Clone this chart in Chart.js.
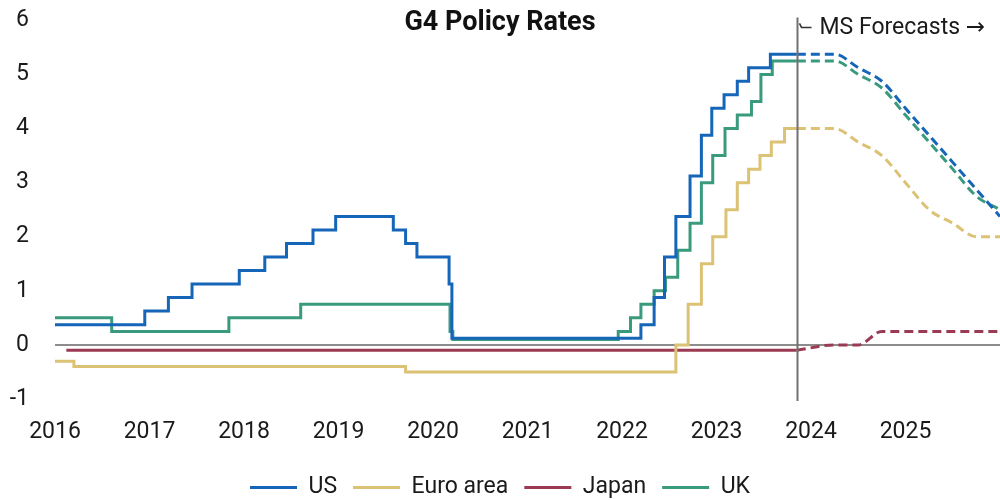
<!DOCTYPE html>
<html>
<head>
<meta charset="utf-8">
<script src="https://cdn.jsdelivr.net/npm/chart.js@4.4.1/dist/chart.umd.min.js"></script>
<style>
  html, body { margin: 0; padding: 0; background: #fff; }
  #wrap { width: 1000px; height: 500px; }
</style>
</head>
<body>
<div id="wrap"><canvas id="ratesChart" width="1000" height="500"></canvas></div>
<script>
// policy rate step dates (decimal years) and levels, %
const usDates = [2016.0, 2016.95, 2017.2, 2017.45, 2017.95, 2018.22, 2018.45, 2018.73, 2018.97, 2019.58, 2019.71, 2019.83, 2020.17, 2020.2, 2022.2, 2022.34, 2022.45, 2022.57, 2022.72, 2022.84, 2022.95, 2023.08, 2023.22, 2023.34, 2023.57, 2023.85];
const usRates = [0.375, 0.625, 0.875, 1.125, 1.375, 1.625, 1.875, 2.125, 2.375, 2.125, 1.875, 1.625, 1.125, 0.125, 0.375, 0.875, 1.625, 2.375, 3.125, 3.875, 4.375, 4.625, 4.875, 5.125, 5.375, 5.375];

const euroDates = [2016.0, 2016.2, 2019.71, 2022.57, 2022.7, 2022.84, 2022.96, 2023.1, 2023.22, 2023.34, 2023.46, 2023.58, 2023.72, 2023.85];
const euroRates = [-0.3, -0.4, -0.5, 0.0, 0.75, 1.5, 2.0, 2.5, 3.0, 3.25, 3.5, 3.75, 4.0, 4.0];

const japanDates = [2016.12, 2023.85];
const japanRates = [-0.1, -0.1];

const ukDates = [2016.0, 2016.6, 2017.84, 2018.6, 2020.18, 2020.21, 2021.96, 2022.09, 2022.2, 2022.34, 2022.46, 2022.59, 2022.72, 2022.84, 2022.96, 2023.09, 2023.22, 2023.37, 2023.47, 2023.59, 2023.85];
const ukRates = [0.5, 0.25, 0.5, 0.75, 0.25, 0.1, 0.25, 0.5, 0.75, 1.0, 1.25, 1.75, 2.25, 3.0, 3.5, 4.0, 4.25, 4.5, 5.0, 5.25, 5.25];

// MS forecasts
const forecastStart = 2023.85;
const forecastDates = [2023.85, 2024.25, 2024.5, 2024.75, 2025.0, 2025.25, 2025.5, 2025.75, 2026.0];
const usForecast = [5.375, 5.375, 5.125, 4.875, 4.375, 3.875, 3.375, 2.875, 2.375];
const euroForecast = [4.0, 4.0, 3.75, 3.5, 3.0, 2.5, 2.25, 2.0, 2.0];
const japanForecast = [-0.1, 0.0, 0.0, 0.25, 0.25, 0.25, 0.25, 0.25, 0.25];
const ukForecast = [5.25, 5.25, 5.0, 4.75, 4.25, 3.75, 3.25, 2.75, 2.5];

const yearTicks = [2016, 2017, 2018, 2019, 2020, 2021, 2022, 2023, 2024, 2025];
const rateTicks = [-1, 0, 1, 2, 3, 4, 5, 6];

const FONT = 'Roboto, "Liberation Sans", sans-serif';
const colors = { us: '#1565b8', euro: '#dcc275', japan: '#9b3a53', uk: '#3a9a7e' };

const pts = (xs, ys) => xs.map((x, i) => ({ x: x, y: ys[i] }));

function actual(label, xs, ys, color) {
    return {
        label: label,
        data: pts(xs, ys),
        borderColor: color,
        backgroundColor: color,
        borderWidth: 3,
        pointRadius: 0,
        stepped: true,
        fill: false
    };
}

function forecast(label, ys, color) {
    return {
        label: label,
        data: pts(forecastDates, ys),
        borderColor: color,
        borderWidth: 3,
        borderDash: [9, 5],
        pointRadius: 0,
        cubicInterpolationMode: 'monotone',
        fill: false
    };
}

// vertical line at forecast start + label
const forecastMarker = {
    id: 'forecastMarker',
    afterDatasetsDraw(chart) {
        const { ctx, scales: { x, y } } = chart;
        const px = Math.round(x.getPixelForValue(forecastStart)) + 0.5;
        const top = y.getPixelForValue(6) - 3;
        ctx.save();
        ctx.strokeStyle = '#707070';
        ctx.lineWidth = 2;
        ctx.beginPath();
        ctx.moveTo(px, top);
        ctx.lineTo(px, y.getPixelForValue(-1) + 2);
        ctx.stroke();
        ctx.lineWidth = 1.5;
        ctx.strokeStyle = '#333';
        ctx.beginPath();
        ctx.moveTo(px + 2, top + 6);
        ctx.lineTo(px + 4, top + 10);
        ctx.lineTo(px + 14, top + 10);
        ctx.stroke();
        ctx.fillStyle = '#1a1a1a';
        ctx.font = '23px ' + FONT;
        ctx.textBaseline = 'middle';
        ctx.textAlign = 'left';
        const label = 'MS Forecasts ';
        ctx.fillText(label, px + 22, top + 11);
        const w = ctx.measureText(label).width;
        ctx.font = '23px "DejaVu Sans", sans-serif';
        ctx.fillText('\u2192', px + 22 + w, top + 11);
        ctx.restore();
    }
};

new Chart(document.getElementById('ratesChart'), {
    type: 'line',
    data: {
        datasets: [
            actual('US', usDates, usRates, colors.us),
            actual('Euro area', euroDates, euroRates, colors.euro),
            actual('Japan', japanDates, japanRates, colors.japan),
            actual('UK', ukDates, ukRates, colors.uk),
            forecast('US forecast', usForecast, colors.us),
            forecast('Euro area forecast', euroForecast, colors.euro),
            forecast('Japan forecast', japanForecast, colors.japan),
            forecast('UK forecast', ukForecast, colors.uk)
        ]
    },
    options: {
        responsive: false,
        animation: false,
        layout: { padding: { left: 0, right: 0, top: 0, bottom: -9 } },
        scales: {
            x: {
                type: 'linear',
                min: 2016,
                max: 2026,
                afterBuildTicks: (scale) => { scale.ticks = yearTicks.map(v => ({ value: v })); },
                afterFit: (scale) => { scale.height = 61; },
                grid: { display: false, drawTicks: false },
                border: { display: false },
                ticks: {
                    padding: 19,
                    maxRotation: 0,
                    autoSkip: false,
                    color: '#1a1a1a',
                    font: { family: FONT, size: 23 },
                    callback: (v) => String(v)
                }
            },
            y: {
                min: -1,
                max: 6,
                afterBuildTicks: (scale) => { scale.ticks = rateTicks.map(v => ({ value: v })); },
                afterFit: (scale) => {
                    scale.width = 55;
                    scale.paddingTop = 12;
                    scale.paddingBottom = 12;
                },
                grid: {
                    drawTicks: false,
                    color: (c) => c.tick && c.tick.value === 0 ? '#8c8c8c' : 'rgba(0,0,0,0)',
                    lineWidth: (c) => c.tick && c.tick.value === 0 ? 2 : 0
                },
                border: { display: false },
                ticks: {
                    padding: 26,
                    color: '#1a1a1a',
                    font: { family: FONT, size: 23 }
                }
            }
        },
        plugins: {
            title: {
                display: true,
                text: 'G4 Policy Rates',
                color: '#111',
                font: { family: FONT, size: 27, weight: 'bold' },
                padding: { top: 7, bottom: -19 }
            },
            legend: {
                position: 'bottom',
                labels: {
                    filter: (item) => item.datasetIndex < 4,
                    usePointStyle: true,
                    pointStyle: 'line',
                    pointStyleWidth: 47,
                    padding: 16,
                    color: '#1a1a1a',
                    font: { family: FONT, size: 23 }
                }
            },
            tooltip: { enabled: false }
        }
    },
    plugins: [forecastMarker]
});
</script>
</body>
</html>
